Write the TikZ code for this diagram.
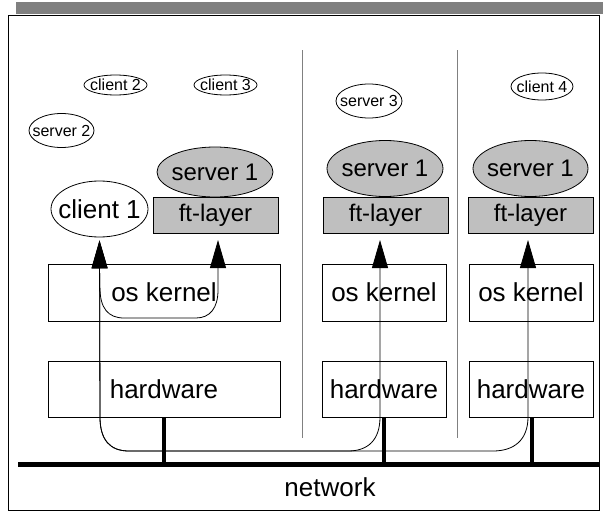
\documentclass[tikz,border=0pt]{standalone}
\usepackage{fontspec}
\setmainfont{Liberation Sans}
\usetikzlibrary{shapes.geometric,arrows.meta,calc}
\definecolor{lightfill}{gray}{0.75}
\definecolor{barfill}{gray}{0.5}
\tikzset{
  box/.style={draw, line width=0.8pt, rectangle, inner sep=0pt},
  layerbox/.style={box, fill=lightfill},
  oval/.style={draw, line width=0.8pt, ellipse, inner sep=0pt},
  bigtext/.style={font=\fontsize{26}{30}\selectfont},
  midtext/.style={font=\fontsize{24}{28}\selectfont},
  smalltext/.style={font=\fontsize{16}{19}\selectfont},
  conn/.style={line width=0.8pt},
  bigtip/.style={-{Triangle[length=28pt,width=16pt]}},
  stub/.style={line width=4pt},
  divider/.style={draw=gray, line width=0.8pt}
}
\newcommand{\zw}[1]{\makebox[0pt]{#1}}
\begin{document}
\begin{tikzpicture}[x=1pt,y=-1pt]
\useasboundingbox (0,0) rectangle (603,514);
% top bar and frame
\fill[barfill] (16,2) rectangle (603,14);
\draw[line width=1pt] (8,15) rectangle (599,510);
% dividers
\draw[divider] (302,50) -- (302,438);
\draw[divider] (457,50) -- (457,438);

% small ovals
\node[oval, smalltext, minimum width=63pt, minimum height=20pt] (c2) at (115.5,85) {\zw{client 2}};
\node[oval, smalltext, minimum width=63pt, minimum height=20pt] (c3) at (225.5,85) {\zw{client 3}};
\node[oval, smalltext, minimum width=65pt, minimum height=34pt] (s2) at (61.5,130.5) {\zw{server 2}};
\node[oval, smalltext, minimum width=66pt, minimum height=34pt] (s3) at (369,101) {\zw{server 3}};
\node[oval, smalltext, minimum width=62pt, minimum height=27pt] (c4) at (542,86.5) {\zw{client 4}};

% server 1 ovals
\node[oval, fill=lightfill, midtext, minimum width=116pt, minimum height=50pt] (sv1) at (215,172) {\zw{server 1}};
\node[oval, fill=lightfill, midtext, minimum width=116pt, minimum height=56pt] (sv2) at (385,168.5) {\zw{server 1}};
\node[oval, fill=lightfill, midtext, minimum width=115pt, minimum height=56pt] (sv3) at (530.5,168.5) {\zw{server 1}};

% client 1
\node[oval, bigtext, minimum width=97pt, minimum height=56pt] (c1) at (99.5,209) {\zw{client 1}};

% ft-layers
\node[layerbox, midtext, minimum width=125pt, minimum height=36pt] (ft1) at (215.5,215) {ft-layer};
\node[layerbox, midtext, minimum width=125pt, minimum height=36pt] (ft2) at (385.5,215) {ft-layer};
\node[layerbox, midtext, minimum width=125pt, minimum height=36pt] (ft3) at (530.5,215) {ft-layer};

% os kernels
\node[box, bigtext, minimum width=232pt, minimum height=57pt] (os1) at (164,292.5) {os kernel};
\node[box, bigtext, minimum width=124pt, minimum height=57pt] (os2) at (384,292.5) {os kernel};
\node[box, bigtext, minimum width=124pt, minimum height=57pt] (os3) at (531,292.5) {os kernel};

% hardware
\node[box, bigtext, minimum width=232pt, minimum height=56pt] (hw1) at (164,389) {hardware};
\node[box, bigtext, minimum width=124pt, minimum height=56pt] (hw2) at (384,389) {hardware};
\node[box, bigtext, minimum width=124pt, minimum height=56pt] (hw3) at (531,389) {hardware};

% network
\coordinate (netL) at (18,464);
\coordinate (netR) at (599,464);
\draw[line width=5pt] (netL) -- (netR);
\node[bigtext, inner sep=0pt] (net) at (330,487) {network};
\draw[stub] (hw1.south -| 164,0) -- (164,464);
\draw[stub] (hw2.south -| 384,0) -- (384,464);
\draw[stub] (hw3.south -| 532,0) -- (532,464);

% connectors
\coordinate (t2) at (380,233);
\coordinate (t3) at (528,233);
\coordinate (t1) at (218,233);
\draw[conn, {Triangle[length=28pt,width=16pt]}-{Triangle[length=28pt,width=16pt]}, shorten <=3pt, shorten >=7pt]
  (c1.south) -- (100,417) .. controls (100,440) and (110,451) .. (129,451) -- (348,451)
  .. controls (368,451) and (380,440) .. (380,417) -- (t2);
\draw[conn, {Triangle[length=28pt,width=16pt]}-{Triangle[length=28pt,width=16pt]}, shorten <=3pt, shorten >=7pt]
  (c1.south) -- (100,417) .. controls (100,440) and (110,451) .. (129,451) -- (493,451)
  .. controls (514,451) and (528,440) .. (528,417) -- (t3);
\coordinate (loopstart) at (100,288);
\draw[conn, bigtip, shorten >=7pt]
  (loopstart) .. controls (100,308) and (108,318) .. (124,318) -- (196,318)
  .. controls (210,318) and (218,308) .. (218,290) -- (t1);
\end{tikzpicture}
\end{document}
